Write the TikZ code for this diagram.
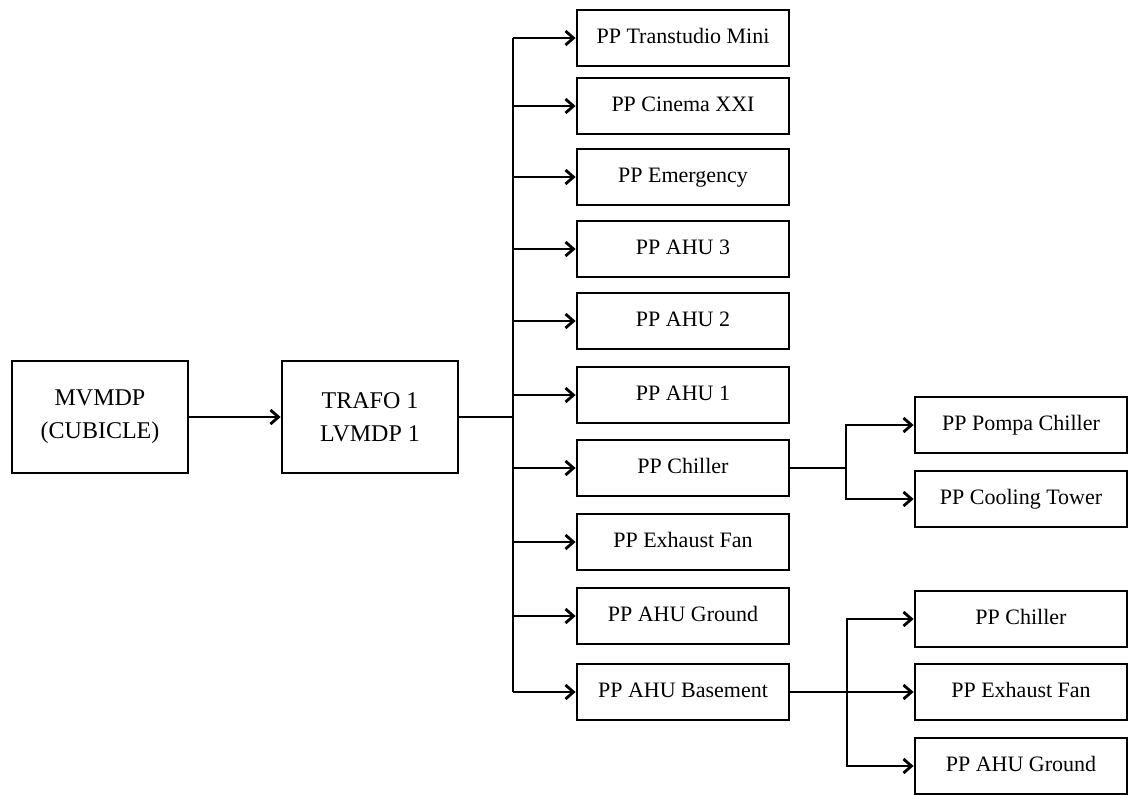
\documentclass[tikz,border=0pt]{standalone}
\usepackage{fontspec}
\setmainfont{Liberation Serif}
\usetikzlibrary{arrows.meta}

\begin{document}
\begin{tikzpicture}[x=0.5pt,y=-0.5pt,line width=1.4pt,
    box/.style={draw,minimum width=106pt,minimum height=28pt,inner sep=0pt,
        text height=7.5pt,text depth=2.5pt,font=\fontsize{11}{13}\selectfont},
    mainbox/.style={draw,minimum width=88pt,minimum height=56pt,inner sep=0pt,
        align=center,font=\fontsize{12}{16.5}\selectfont},
    feed/.style={-{Straight Barb[length=4pt,width=7pt]}}]

    \useasboundingbox (0,0) rectangle (1142,794);

    % source side
    \node[mainbox] (mvmdp) at (100,417) {MVMDP\\(CUBICLE)};
    \node[mainbox] (trafo) at (370,417) {TRAFO 1\\LVMDP 1};
    \coordinate (bus) at (513,417);

    \draw[feed] (mvmdp) -- (trafo);
    \draw (trafo.east) -- (bus);

    % panel column
    \node[box] (tmini)    at (683,38)  {PP Transtudio Mini};
    \node[box] (cinema)   at (683,106) {PP Cinema XXI};
    \node[box] (emerg)    at (683,177) {PP Emergency};
    \node[box] (ahu3)     at (683,249) {PP AHU 3};
    \node[box] (ahu2)     at (683,321) {PP AHU 2};
    \node[box] (ahu1)     at (683,395) {PP AHU 1};
    \node[box] (chiller)  at (683,468) {PP Chiller};
    \node[box] (exhaust)  at (683,542) {PP Exhaust Fan};
    \node[box] (ahug)     at (683,616) {PP AHU Ground};
    \node[box] (ahub)     at (683,692) {PP AHU Basement};

    \draw (bus |- tmini.west) -- (bus |- ahub.west);
    \draw[feed] (bus |- tmini.west) -- (tmini.west);
    \draw[feed] (bus |- cinema.west) -- (cinema.west);
    \draw[feed] (bus |- emerg.west) -- (emerg.west);
    \draw[feed] (bus |- ahu3.west) -- (ahu3.west);
    \draw[feed] (bus |- ahu2.west) -- (ahu2.west);
    \draw[feed] (bus |- ahu1.west) -- (ahu1.west);
    \draw[feed] (bus |- chiller.west) -- (chiller.west);
    \draw[feed] (bus |- exhaust.west) -- (exhaust.west);
    \draw[feed] (bus |- ahug.west) -- (ahug.west);
    \draw[feed] (bus |- ahub.west) -- (ahub.west);

    % chiller branch
    \node[box] (pompa)   at (1021,425) {PP Pompa Chiller};
    \node[box] (cooling) at (1021,499) {PP Cooling Tower};
    \coordinate (cj) at (846,468);

    \draw (chiller.east) -- (cj);
    \draw[feed] (cj) |- (pompa.west);
    \draw[feed] (cj) |- (cooling.west);

    % basement branch
    \node[box] (bchiller) at (1021,619) {PP Chiller};
    \node[box] (bexhaust) at (1021,692) {PP Exhaust Fan};
    \node[box] (bahug)    at (1021,766) {PP AHU Ground};
    \coordinate (bj) at (847,692);

    \draw[feed] (ahub.east) -- (bexhaust.west);
    \draw[feed] (bj) |- (bchiller.west);
    \draw[feed] (bj) |- (bahug.west);

\end{tikzpicture}
\end{document}
